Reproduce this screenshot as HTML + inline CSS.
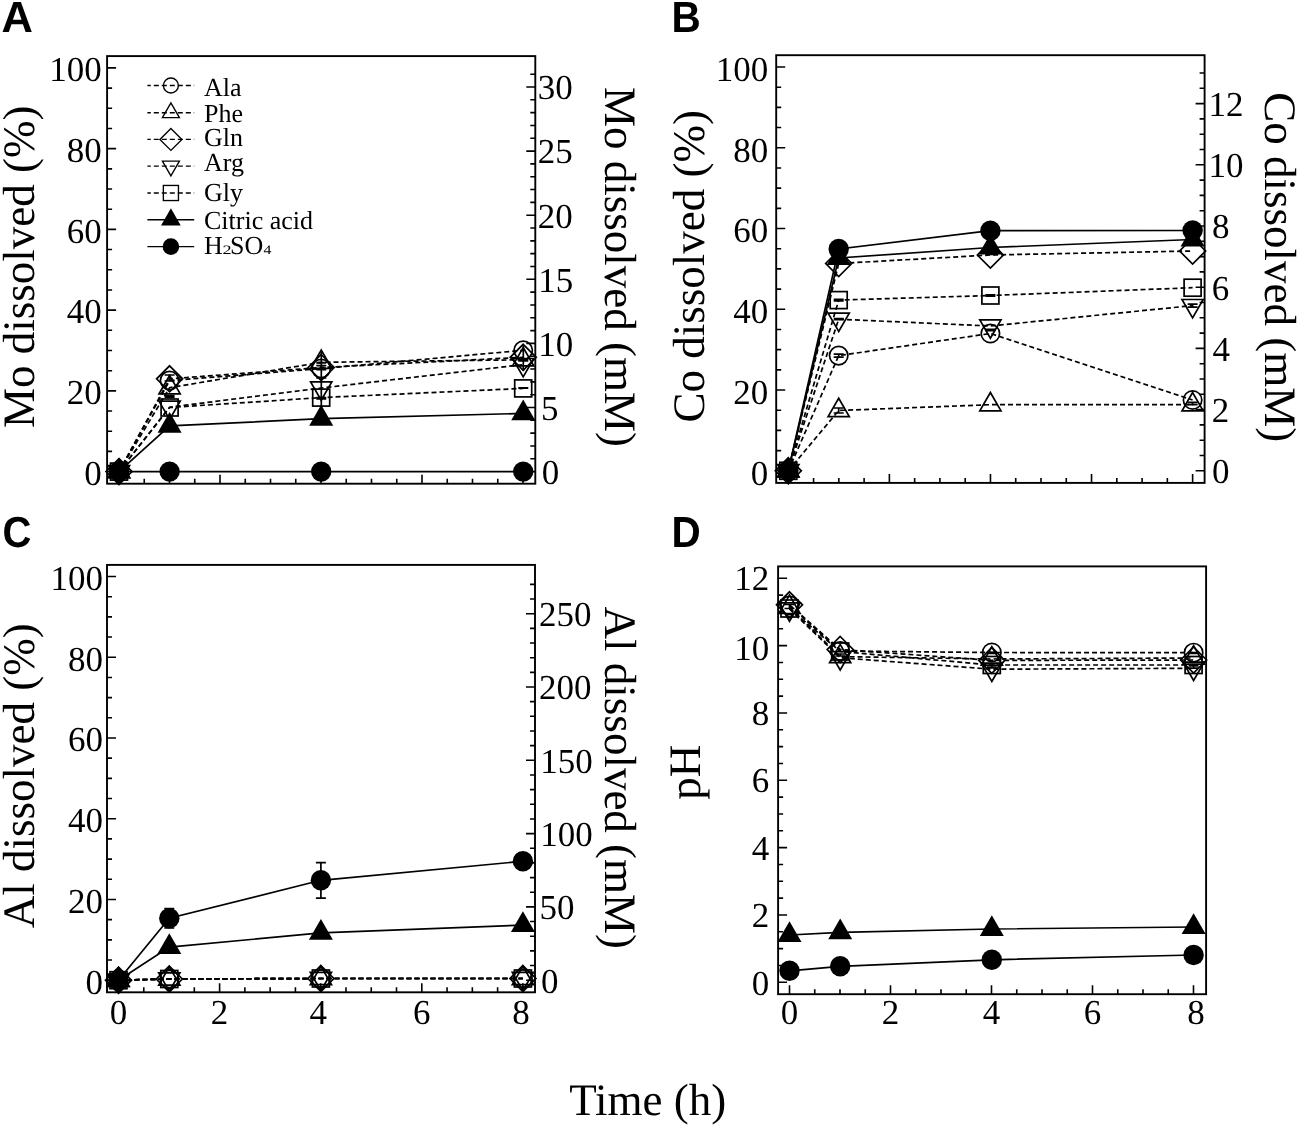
<!DOCTYPE html><html><head><meta charset="utf-8"><title>Figure</title><style>html,body{margin:0;padding:0;background:#fff;width:1299px;height:1127px;overflow:hidden}svg{display:block;will-change:transform}text{text-rendering:geometricPrecision}.t{font-family:"Liberation Serif",serif;font-size:35px;fill:#000}.ti{font-family:"Liberation Serif",serif;font-size:45px;fill:#000}.lg{font-family:"Liberation Serif",serif;font-size:26px;fill:#000}.pl{font-family:"Liberation Sans",sans-serif;font-weight:bold;font-size:43.5px;fill:#000}</style></head><body>
<svg width="1299" height="1127" viewBox="0 0 1299 1127">
<rect width="1299" height="1127" fill="#fff"/>
<text x="1.4" y="32.1" class="pl">A</text>
<text class="pl" transform="translate(674.3,32.1) scale(0.93,1)" x="-2.9">B</text>
<text class="pl" transform="translate(4.2,546.6) scale(0.92,1)" x="-1.8">C</text>
<text class="pl" transform="translate(674.3,547) scale(0.93,1)" x="-2.9">D</text>
<rect x="107.1" y="56.1" width="428.2" height="427.6" fill="none" stroke="#000" stroke-width="1.9"/>
<path d="M107.1 471.6h9M107.1 451.42h5M107.1 431.23h5M107.1 411.05h5M107.1 390.86h9M107.1 370.68h5M107.1 350.49h5M107.1 330.31h5M107.1 310.12h9M107.1 289.94h5M107.1 269.75h5M107.1 249.57h5M107.1 229.38h9M107.1 209.2h5M107.1 189.01h5M107.1 168.83h5M107.1 148.64h9M107.1 128.46h5M107.1 108.27h5M107.1 88.09h5M107.1 67.9h9M535.3 471.6h-9M535.3 458.78h-5M535.3 445.96h-5M535.3 433.14h-5M535.3 420.32h-5M535.3 407.5h-9M535.3 394.68h-5M535.3 381.86h-5M535.3 369.04h-5M535.3 356.22h-5M535.3 343.4h-9M535.3 330.58h-5M535.3 317.76h-5M535.3 304.94h-5M535.3 292.12h-5M535.3 279.3h-9M535.3 266.48h-5M535.3 253.66h-5M535.3 240.84h-5M535.3 228.02h-5M535.3 215.2h-9M535.3 202.38h-5M535.3 189.56h-5M535.3 176.74h-5M535.3 163.92h-5M535.3 151.1h-9M535.3 138.28h-5M535.3 125.46h-5M535.3 112.64h-5M535.3 99.82h-5M535.3 87h-9M535.3 74.18h-5M119 483.7v-9M144.25 483.7v-5M169.5 483.7v-5M194.75 483.7v-5M220 483.7v-9M245.25 483.7v-5M270.5 483.7v-5M295.75 483.7v-5M321 483.7v-9M346.25 483.7v-5M371.5 483.7v-5M396.75 483.7v-5M422 483.7v-9M447.25 483.7v-5M472.5 483.7v-5M497.75 483.7v-5M523 483.7v-9" stroke="#000" stroke-width="1.6" fill="none"/>
<text x="101.73" y="484.9" class="t" text-anchor="end">0</text>
<text x="101.73" y="404.16" class="t" text-anchor="end">20</text>
<text x="101.73" y="323.42" class="t" text-anchor="end">40</text>
<text x="101.73" y="242.68" class="t" text-anchor="end">60</text>
<text x="101.73" y="161.94" class="t" text-anchor="end">80</text>
<text x="101.73" y="81.2" class="t" text-anchor="end">100</text>
<text x="541.67" y="483.9" class="t">0</text>
<text x="540.97" y="419.8" class="t">5</text>
<text x="538.22" y="355.7" class="t">10</text>
<text x="538.22" y="291.6" class="t">15</text>
<text x="537.76" y="227.5" class="t">20</text>
<text x="537.76" y="163.4" class="t">25</text>
<text x="537.63" y="99.3" class="t">30</text>
<rect x="776.2" y="55.2" width="428.4" height="427.7" fill="none" stroke="#000" stroke-width="1.9"/>
<path d="M776.2 470.8h9M776.2 450.61h5M776.2 430.42h5M776.2 410.23h5M776.2 390.04h9M776.2 369.85h5M776.2 349.66h5M776.2 329.47h5M776.2 309.28h9M776.2 289.09h5M776.2 268.9h5M776.2 248.71h5M776.2 228.52h9M776.2 208.33h5M776.2 188.14h5M776.2 167.95h5M776.2 147.76h9M776.2 127.57h5M776.2 107.38h5M776.2 87.19h5M776.2 67h9M1204.6 470.8h-9M1204.6 455.5h-5M1204.6 440.2h-5M1204.6 424.9h-5M1204.6 409.6h-9M1204.6 394.3h-5M1204.6 379h-5M1204.6 363.7h-5M1204.6 348.4h-9M1204.6 333.1h-5M1204.6 317.8h-5M1204.6 302.5h-5M1204.6 287.2h-9M1204.6 271.9h-5M1204.6 256.6h-5M1204.6 241.3h-5M1204.6 226h-9M1204.6 210.7h-5M1204.6 195.4h-5M1204.6 180.1h-5M1204.6 164.8h-9M1204.6 149.5h-5M1204.6 134.2h-5M1204.6 118.9h-5M1204.6 103.6h-9M1204.6 88.3h-5M1204.6 73h-5M788.3 482.9v-9M813.57 482.9v-5M838.84 482.9v-5M864.11 482.9v-5M889.38 482.9v-9M914.65 482.9v-5M939.92 482.9v-5M965.19 482.9v-5M990.46 482.9v-9M1015.73 482.9v-5M1041 482.9v-5M1066.27 482.9v-5M1091.54 482.9v-9M1116.81 482.9v-5M1142.08 482.9v-5M1167.35 482.9v-5M1192.62 482.9v-9" stroke="#000" stroke-width="1.6" fill="none"/>
<text x="768.13" y="484.7" class="t" text-anchor="end">0</text>
<text x="768.13" y="403.94" class="t" text-anchor="end">20</text>
<text x="768.13" y="323.18" class="t" text-anchor="end">40</text>
<text x="768.13" y="242.42" class="t" text-anchor="end">60</text>
<text x="768.13" y="161.66" class="t" text-anchor="end">80</text>
<text x="768.13" y="80.9" class="t" text-anchor="end">100</text>
<text x="1211.97" y="483.1" class="t">0</text>
<text x="1211.76" y="421.9" class="t">2</text>
<text x="1212.62" y="360.7" class="t">4</text>
<text x="1211.8" y="299.5" class="t">6</text>
<text x="1211.97" y="238.3" class="t">8</text>
<text x="1208.62" y="177.1" class="t">10</text>
<text x="1208.62" y="115.9" class="t">12</text>
<rect x="107" y="564.9" width="428" height="427.4" fill="none" stroke="#000" stroke-width="1.9"/>
<path d="M107 980.2h9M107 960.02h5M107 939.83h5M107 919.65h5M107 899.46h9M107 879.28h5M107 859.09h5M107 838.91h5M107 818.72h9M107 798.54h5M107 778.35h5M107 758.17h5M107 737.98h9M107 717.8h5M107 697.61h5M107 677.43h5M107 657.24h9M107 637.06h5M107 616.87h5M107 596.69h5M107 576.5h9M535 980.2h-9M535 965.54h-5M535 950.88h-5M535 936.22h-5M535 921.56h-5M535 906.9h-9M535 892.24h-5M535 877.58h-5M535 862.92h-5M535 848.26h-5M535 833.6h-9M535 818.94h-5M535 804.28h-5M535 789.62h-5M535 774.96h-5M535 760.3h-9M535 745.64h-5M535 730.98h-5M535 716.32h-5M535 701.66h-5M535 687h-9M535 672.34h-5M535 657.68h-5M535 643.02h-5M535 628.36h-5M535 613.7h-9M535 599.04h-5M535 584.38h-5M118.5 992.3v-9M143.78 992.3v-5M169.05 992.3v-5M194.32 992.3v-5M219.6 992.3v-9M244.88 992.3v-5M270.15 992.3v-5M295.42 992.3v-5M320.7 992.3v-9M345.98 992.3v-5M371.25 992.3v-5M396.52 992.3v-5M421.8 992.3v-9M447.07 992.3v-5M472.35 992.3v-5M497.62 992.3v-5M522.9 992.3v-9" stroke="#000" stroke-width="1.6" fill="none"/>
<text x="102.93" y="993.5" class="t" text-anchor="end">0</text>
<text x="102.93" y="912.76" class="t" text-anchor="end">20</text>
<text x="102.93" y="832.02" class="t" text-anchor="end">40</text>
<text x="102.93" y="751.28" class="t" text-anchor="end">60</text>
<text x="102.93" y="670.54" class="t" text-anchor="end">80</text>
<text x="102.93" y="589.8" class="t" text-anchor="end">100</text>
<text x="541.07" y="992.5" class="t">0</text>
<text x="539.47" y="919.2" class="t">50</text>
<text x="540.22" y="845.9" class="t">100</text>
<text x="540.22" y="772.6" class="t">150</text>
<text x="539.06" y="699.3" class="t">200</text>
<text x="539.06" y="626" class="t">250</text>
<text x="118.5" y="1023.5" class="t" text-anchor="middle">0</text>
<text x="219.6" y="1023.5" class="t" text-anchor="middle">2</text>
<text x="318.3" y="1023.5" class="t" text-anchor="middle">4</text>
<text x="421.8" y="1023.5" class="t" text-anchor="middle">6</text>
<text x="521.1" y="1023.5" class="t" text-anchor="middle">8</text>
<rect x="778.1" y="566.4" width="428" height="427.8" fill="none" stroke="#000" stroke-width="1.9"/>
<path d="M778.1 982.3h9M778.1 965.46h5M778.1 948.63h5M778.1 931.79h5M778.1 914.96h9M778.1 898.12h5M778.1 881.29h5M778.1 864.45h5M778.1 847.62h9M778.1 830.78h5M778.1 813.95h5M778.1 797.12h5M778.1 780.28h9M778.1 763.44h5M778.1 746.61h5M778.1 729.77h5M778.1 712.94h9M778.1 696.11h5M778.1 679.27h5M778.1 662.43h5M778.1 645.6h9M778.1 628.76h5M778.1 611.93h5M778.1 595.09h5M778.1 578.26h9M789.5 994.2v-9M814.75 994.2v-5M840 994.2v-5M865.25 994.2v-5M890.5 994.2v-9M915.75 994.2v-5M941 994.2v-5M966.25 994.2v-5M991.5 994.2v-9M1016.75 994.2v-5M1042 994.2v-5M1067.25 994.2v-5M1092.5 994.2v-9M1117.75 994.2v-5M1143 994.2v-5M1168.25 994.2v-5M1193.5 994.2v-9" stroke="#000" stroke-width="1.6" fill="none"/>
<text x="769.13" y="994.5" class="t" text-anchor="end">0</text>
<text x="769.13" y="927.16" class="t" text-anchor="end">2</text>
<text x="769.13" y="859.82" class="t" text-anchor="end">4</text>
<text x="769.13" y="792.48" class="t" text-anchor="end">6</text>
<text x="769.13" y="725.14" class="t" text-anchor="end">8</text>
<text x="769.13" y="660.1" class="t" text-anchor="end">10</text>
<text x="769.13" y="590.46" class="t" text-anchor="end">12</text>
<text x="789.5" y="1023.5" class="t" text-anchor="middle">0</text>
<text x="890.5" y="1023.5" class="t" text-anchor="middle">2</text>
<text x="991.5" y="1023.5" class="t" text-anchor="middle">4</text>
<text x="1092.5" y="1023.5" class="t" text-anchor="middle">6</text>
<text x="1196" y="1023.5" class="t" text-anchor="middle">8</text>
<text class="ti" transform="translate(34,428.1) rotate(-90)">Mo dissolved (%)</text>
<text class="ti" transform="translate(604.6,86.9) rotate(90)">Mo dissolved (mM)</text>
<text class="ti" transform="translate(704,422.5) rotate(-90)">Co dissolved (%)</text>
<text class="ti" transform="translate(1264.5,92.3) rotate(90)">Co dissolved (mM)</text>
<text class="ti" transform="translate(34,928.2) rotate(-90)">Al dissolved (%)</text>
<text class="ti" transform="translate(604.6,606.6) rotate(90)">Al dissolved (mM)</text>
<text class="ti" transform="translate(699.9,799.7) rotate(-90)">pH</text>
<text class="ti" x="569.2" y="1115.4">Time (h)</text>
<path d="M147.4 85.5 L194.2 85.5" fill="none" stroke="#000" stroke-width="1.35" stroke-dasharray="5 3" stroke-dashoffset="1.6"/>
<circle cx="170.9" cy="85.5" r="7.5" fill="none" stroke="#000" stroke-width="1.35"/>
<text x="204.0" y="95.5" class="lg">Ala</text>
<path d="M147.4 112.7 L194.2 112.7" fill="none" stroke="#000" stroke-width="1.35" stroke-dasharray="5 3" stroke-dashoffset="1.6"/>
<polygon points="170.9,102.89 162.4,117.61 179.4,117.61" fill="none" stroke="#000" stroke-width="1.35" stroke-linejoin="miter"/>
<text x="204.0" y="121.5" class="lg">Phe</text>
<path d="M147.4 139.4 L194.2 139.4" fill="none" stroke="#000" stroke-width="1.35" stroke-dasharray="5 3" stroke-dashoffset="1.6"/>
<polygon points="170.9,128.4 181.9,139.4 170.9,150.4 159.9,139.4" fill="none" stroke="#000" stroke-width="1.35"/>
<text x="204.0" y="145.7" class="lg">Gln</text>
<path d="M147.4 166.1 L194.2 166.1" fill="none" stroke="#000" stroke-width="1.35" stroke-dasharray="5 3" stroke-dashoffset="1.6"/>
<polygon points="170.9,175.91 162.4,161.19 179.4,161.19" fill="none" stroke="#000" stroke-width="1.35" stroke-linejoin="miter"/>
<text x="204.0" y="171.3" class="lg">Arg</text>
<path d="M147.4 193 L194.2 193" fill="none" stroke="#000" stroke-width="1.35" stroke-dasharray="5 3" stroke-dashoffset="1.6"/>
<rect x="163.35" y="185.45" width="15.1" height="15.1" fill="none" stroke="#000" stroke-width="1.35"/>
<text x="204.0" y="200.7" class="lg">Gly</text>
<path d="M147.4 219.7 L194.2 219.7" fill="none" stroke="#000" stroke-width="1.35"/>
<polygon points="170.9,208.33 161.05,225.39 180.75,225.39" fill="#000"/>
<text x="204.0" y="228.5" class="lg">Citric acid</text>
<path d="M147.4 246.6 L194.2 246.6" fill="none" stroke="#000" stroke-width="1.35"/>
<circle cx="170.9" cy="246.6" r="8.3" fill="#000"/>
<text x="204.1" y="254.1" class="lg">H</text>
<text class="lg" style="font-size:12.8px" transform="translate(222.6,254) scale(1.42,1)">2</text>
<text x="230.1" y="254.1" class="lg">SO</text>
<text class="lg" style="font-size:13px" transform="translate(263.5,254) scale(1.22,1)">4</text>
<path d="M119 471.6 L169.6 380.6 L321.2 368.6 L523.2 350.3" fill="none" stroke="#000" stroke-width="1.7" stroke-dasharray="5 3"/>
<path d="M119 471.6 L169.6 387.7 L321.2 362.3 L523.2 359.8" fill="none" stroke="#000" stroke-width="1.7" stroke-dasharray="5 3"/>
<path d="M119 471.6 L169.6 378.8 L321.2 367.5 L523.2 357.3" fill="none" stroke="#000" stroke-width="1.7" stroke-dasharray="5 3"/>
<path d="M119 471.6 L169.6 407.2 L321.2 388 L523.2 364.6" fill="none" stroke="#000" stroke-width="1.7" stroke-dasharray="5 3"/>
<path d="M119 471.6 L169.6 407.5 L321.2 397.6 L523.2 388.4" fill="none" stroke="#000" stroke-width="1.7" stroke-dasharray="5 3"/>
<path d="M119 471.6 L169.6 425.9 L321.2 418.7 L523.2 413.4" fill="none" stroke="#000" stroke-width="1.7"/>
<path d="M119 471.6 L169.6 471.6 L321.2 471.6 L523.2 471.6" fill="none" stroke="#000" stroke-width="1.7"/>
<path d="M321.3 351V407" stroke="#000" stroke-width="1.7" fill="none"/>
<path d="M321.3 362.6V362.8M316.3 362.6h10M316.3 362.8h10" stroke="#000" stroke-width="1.7" fill="none"/>
<path d="M321.3 365.6V369.6M316.3 365.6h10M316.3 369.6h10" stroke="#000" stroke-width="1.7" fill="none"/>
<path d="M321.3 377.7V377.9M316.3 377.7h10M316.3 377.9h10" stroke="#000" stroke-width="1.7" fill="none"/>
<path d="M321.3 397.7V398.9M316.3 397.7h10M316.3 398.9h10" stroke="#000" stroke-width="1.7" fill="none"/>
<path d="M523.3 345V371" stroke="#000" stroke-width="1.7" fill="none"/>
<path d="M523.3 359.1V360.9M518.3 359.1h10M518.3 360.9h10" stroke="#000" stroke-width="1.7" fill="none"/>
<path d="M523.3 387.9V388.1M518.3 387.9h10M518.3 388.1h10" stroke="#000" stroke-width="1.7" fill="none"/>
<path d="M169.6 375V381M164.6 375h10M164.6 381h10" stroke="#000" stroke-width="1.7" fill="none"/>
<path d="M169.6 395.7V397.3M164.6 395.7h10M164.6 397.3h10" stroke="#000" stroke-width="1.7" fill="none"/>
<circle cx="119" cy="471.6" r="9.2" fill="none" stroke="#000" stroke-width="1.7"/>
<circle cx="169.6" cy="380.6" r="9.2" fill="none" stroke="#000" stroke-width="1.7"/>
<circle cx="321.2" cy="368.6" r="9.2" fill="none" stroke="#000" stroke-width="1.7"/>
<circle cx="523.2" cy="350.3" r="9.2" fill="none" stroke="#000" stroke-width="1.7"/>
<polygon points="119,459.36 108.4,477.72 129.6,477.72" fill="none" stroke="#000" stroke-width="1.7" stroke-linejoin="miter"/>
<polygon points="169.6,375.46 159,393.82 180.2,393.82" fill="none" stroke="#000" stroke-width="1.7" stroke-linejoin="miter"/>
<polygon points="321.2,350.06 310.6,368.42 331.8,368.42" fill="none" stroke="#000" stroke-width="1.7" stroke-linejoin="miter"/>
<polygon points="523.2,347.56 512.6,365.92 533.8,365.92" fill="none" stroke="#000" stroke-width="1.7" stroke-linejoin="miter"/>
<polygon points="119,458.6 132,471.6 119,484.6 106,471.6" fill="none" stroke="#000" stroke-width="1.7"/>
<polygon points="169.6,365.8 182.6,378.8 169.6,391.8 156.6,378.8" fill="none" stroke="#000" stroke-width="1.7"/>
<polygon points="321.2,354.5 334.2,367.5 321.2,380.5 308.2,367.5" fill="none" stroke="#000" stroke-width="1.7"/>
<polygon points="523.2,344.3 536.2,357.3 523.2,370.3 510.2,357.3" fill="none" stroke="#000" stroke-width="1.7"/>
<polygon points="119,483.84 108.4,465.48 129.6,465.48" fill="none" stroke="#000" stroke-width="1.7" stroke-linejoin="miter"/>
<polygon points="169.6,419.44 159,401.08 180.2,401.08" fill="none" stroke="#000" stroke-width="1.7" stroke-linejoin="miter"/>
<polygon points="321.2,400.24 310.6,381.88 331.8,381.88" fill="none" stroke="#000" stroke-width="1.7" stroke-linejoin="miter"/>
<polygon points="523.2,376.84 512.6,358.48 533.8,358.48" fill="none" stroke="#000" stroke-width="1.7" stroke-linejoin="miter"/>
<rect x="110.5" y="463.1" width="17" height="17" fill="none" stroke="#000" stroke-width="1.7"/>
<rect x="161.1" y="399" width="17" height="17" fill="none" stroke="#000" stroke-width="1.7"/>
<rect x="312.7" y="389.1" width="17" height="17" fill="none" stroke="#000" stroke-width="1.7"/>
<rect x="514.7" y="379.9" width="17" height="17" fill="none" stroke="#000" stroke-width="1.7"/>
<polygon points="119,457.74 107,478.53 131,478.53" fill="#000"/>
<polygon points="169.6,412.04 157.6,432.83 181.6,432.83" fill="#000"/>
<polygon points="321.2,404.84 309.2,425.63 333.2,425.63" fill="#000"/>
<polygon points="523.2,399.54 511.2,420.33 535.2,420.33" fill="#000"/>
<circle cx="119" cy="471.6" r="10.2" fill="#000"/>
<circle cx="169.6" cy="471.6" r="10.2" fill="#000"/>
<circle cx="321.2" cy="471.6" r="10.2" fill="#000"/>
<circle cx="523.2" cy="471.6" r="10.2" fill="#000"/>
<path d="M788.3 470.8 L838.7 355.6 L990.4 333.5 L1192.6 400" fill="none" stroke="#000" stroke-width="1.7" stroke-dasharray="5 3"/>
<path d="M788.3 470.8 L838.7 410.5 L990.4 404.7 L1192.6 404.7" fill="none" stroke="#000" stroke-width="1.7" stroke-dasharray="5 3"/>
<path d="M788.3 470.8 L838.7 263.5 L990.4 255 L1192.6 251" fill="none" stroke="#000" stroke-width="1.7" stroke-dasharray="5 3"/>
<path d="M788.3 470.8 L838.7 319.2 L990.4 326 L1192.6 305.6" fill="none" stroke="#000" stroke-width="1.7" stroke-dasharray="5 3"/>
<path d="M788.3 470.8 L838.7 300.1 L990.4 295.5 L1192.6 287.7" fill="none" stroke="#000" stroke-width="1.7" stroke-dasharray="5 3"/>
<path d="M788.3 470.8 L838.7 258 L990.4 247.5 L1192.6 239.5" fill="none" stroke="#000" stroke-width="1.7"/>
<path d="M788.3 470.8 L838.7 249 L990.4 230.7 L1192.6 230.5" fill="none" stroke="#000" stroke-width="1.7"/>
<path d="M838.7 354.1V357.1M833.7 354.1h10M833.7 357.1h10" stroke="#000" stroke-width="1.7" fill="none"/>
<path d="M838.7 408V413M833.7 408h10M833.7 413h10" stroke="#000" stroke-width="1.7" fill="none"/>
<path d="M838.7 299.3V300.9M833.7 299.3h10M833.7 300.9h10" stroke="#000" stroke-width="1.7" fill="none"/>
<path d="M838.7 318.7V319.7M833.7 318.7h10M833.7 319.7h10" stroke="#000" stroke-width="1.7" fill="none"/>
<path d="M990.4 294.9V296.1M985.4 294.9h10M985.4 296.1h10" stroke="#000" stroke-width="1.7" fill="none"/>
<path d="M990.4 329.4V330.6M985.4 329.4h10M985.4 330.6h10" stroke="#000" stroke-width="1.7" fill="none"/>
<path d="M1192.6 304.1V307.1M1187.6 304.1h10M1187.6 307.1h10" stroke="#000" stroke-width="1.7" fill="none"/>
<path d="M1192.6 402.3V404.7M1187.6 402.3h10M1187.6 404.7h10" stroke="#000" stroke-width="1.7" fill="none"/>
<path d="M990.4 253.5V254.5M985.4 253.5h10M985.4 254.5h10" stroke="#000" stroke-width="1.7" fill="none"/>
<circle cx="788.3" cy="470.8" r="9.2" fill="none" stroke="#000" stroke-width="1.7"/>
<circle cx="838.7" cy="355.6" r="9.2" fill="none" stroke="#000" stroke-width="1.7"/>
<circle cx="990.4" cy="333.5" r="9.2" fill="none" stroke="#000" stroke-width="1.7"/>
<circle cx="1192.6" cy="400" r="9.2" fill="none" stroke="#000" stroke-width="1.7"/>
<polygon points="788.3,458.56 777.7,476.92 798.9,476.92" fill="none" stroke="#000" stroke-width="1.7" stroke-linejoin="miter"/>
<polygon points="838.7,398.26 828.1,416.62 849.3,416.62" fill="none" stroke="#000" stroke-width="1.7" stroke-linejoin="miter"/>
<polygon points="990.4,392.46 979.8,410.82 1001,410.82" fill="none" stroke="#000" stroke-width="1.7" stroke-linejoin="miter"/>
<polygon points="1192.6,392.46 1182,410.82 1203.2,410.82" fill="none" stroke="#000" stroke-width="1.7" stroke-linejoin="miter"/>
<polygon points="788.3,457.8 801.3,470.8 788.3,483.8 775.3,470.8" fill="none" stroke="#000" stroke-width="1.7"/>
<polygon points="838.7,250.5 851.7,263.5 838.7,276.5 825.7,263.5" fill="none" stroke="#000" stroke-width="1.7"/>
<polygon points="990.4,242 1003.4,255 990.4,268 977.4,255" fill="none" stroke="#000" stroke-width="1.7"/>
<polygon points="1192.6,238 1205.6,251 1192.6,264 1179.6,251" fill="none" stroke="#000" stroke-width="1.7"/>
<polygon points="788.3,483.04 777.7,464.68 798.9,464.68" fill="none" stroke="#000" stroke-width="1.7" stroke-linejoin="miter"/>
<polygon points="838.7,331.44 828.1,313.08 849.3,313.08" fill="none" stroke="#000" stroke-width="1.7" stroke-linejoin="miter"/>
<polygon points="990.4,338.24 979.8,319.88 1001,319.88" fill="none" stroke="#000" stroke-width="1.7" stroke-linejoin="miter"/>
<polygon points="1192.6,317.84 1182,299.48 1203.2,299.48" fill="none" stroke="#000" stroke-width="1.7" stroke-linejoin="miter"/>
<rect x="779.8" y="462.3" width="17" height="17" fill="none" stroke="#000" stroke-width="1.7"/>
<rect x="830.2" y="291.6" width="17" height="17" fill="none" stroke="#000" stroke-width="1.7"/>
<rect x="981.9" y="287" width="17" height="17" fill="none" stroke="#000" stroke-width="1.7"/>
<rect x="1184.1" y="279.2" width="17" height="17" fill="none" stroke="#000" stroke-width="1.7"/>
<polygon points="788.3,456.94 776.3,477.73 800.3,477.73" fill="#000"/>
<polygon points="838.7,244.14 826.7,264.93 850.7,264.93" fill="#000"/>
<polygon points="990.4,233.64 978.4,254.43 1002.4,254.43" fill="#000"/>
<polygon points="1192.6,225.64 1180.6,246.43 1204.6,246.43" fill="#000"/>
<circle cx="788.3" cy="470.8" r="10.2" fill="#000"/>
<circle cx="838.7" cy="249" r="10.2" fill="#000"/>
<circle cx="990.4" cy="230.7" r="10.2" fill="#000"/>
<circle cx="1192.6" cy="230.5" r="10.2" fill="#000"/>
<path d="M118.5 980.2 L169.3 979 L320.9 978.5 L522.9 978.5" fill="none" stroke="#000" stroke-width="1.7" stroke-dasharray="5 3"/>
<path d="M118.5 980.2 L169.3 979 L320.9 978.5 L522.9 978.5" fill="none" stroke="#000" stroke-width="1.7" stroke-dasharray="5 3"/>
<path d="M118.5 980.2 L169.3 979 L320.9 978.5 L522.9 978.5" fill="none" stroke="#000" stroke-width="1.7" stroke-dasharray="5 3"/>
<path d="M118.5 980.2 L169.3 979 L320.9 978.5 L522.9 978.5" fill="none" stroke="#000" stroke-width="1.7" stroke-dasharray="5 3"/>
<path d="M118.5 980.2 L169.3 979 L320.9 978.5 L522.9 978.5" fill="none" stroke="#000" stroke-width="1.7" stroke-dasharray="5 3"/>
<path d="M118.5 980.2 L169.3 947.1 L320.9 932.9 L522.9 925.1" fill="none" stroke="#000" stroke-width="1.7"/>
<path d="M118.5 980.2 L169.3 918.3 L320.9 880.3 L522.9 861.3" fill="none" stroke="#000" stroke-width="1.7"/>
<path d="M320.9 862.6V898.1M315.9 862.6h10M315.9 898.1h10" stroke="#000" stroke-width="1.7" fill="none"/>
<path d="M169.3 908.5V928M164.3 908.5h10M164.3 928h10" stroke="#000" stroke-width="1.7" fill="none"/>
<circle cx="118.5" cy="980.2" r="9.2" fill="none" stroke="#000" stroke-width="1.7"/>
<circle cx="169.3" cy="979" r="9.2" fill="none" stroke="#000" stroke-width="1.7"/>
<circle cx="320.9" cy="978.5" r="9.2" fill="none" stroke="#000" stroke-width="1.7"/>
<circle cx="522.9" cy="978.5" r="9.2" fill="none" stroke="#000" stroke-width="1.7"/>
<polygon points="118.5,967.96 107.9,986.32 129.1,986.32" fill="none" stroke="#000" stroke-width="1.7" stroke-linejoin="miter"/>
<polygon points="169.3,966.76 158.7,985.12 179.9,985.12" fill="none" stroke="#000" stroke-width="1.7" stroke-linejoin="miter"/>
<polygon points="320.9,966.26 310.3,984.62 331.5,984.62" fill="none" stroke="#000" stroke-width="1.7" stroke-linejoin="miter"/>
<polygon points="522.9,966.26 512.3,984.62 533.5,984.62" fill="none" stroke="#000" stroke-width="1.7" stroke-linejoin="miter"/>
<polygon points="118.5,967.2 131.5,980.2 118.5,993.2 105.5,980.2" fill="none" stroke="#000" stroke-width="1.7"/>
<polygon points="169.3,966 182.3,979 169.3,992 156.3,979" fill="none" stroke="#000" stroke-width="1.7"/>
<polygon points="320.9,965.5 333.9,978.5 320.9,991.5 307.9,978.5" fill="none" stroke="#000" stroke-width="1.7"/>
<polygon points="522.9,965.5 535.9,978.5 522.9,991.5 509.9,978.5" fill="none" stroke="#000" stroke-width="1.7"/>
<polygon points="118.5,992.44 107.9,974.08 129.1,974.08" fill="none" stroke="#000" stroke-width="1.7" stroke-linejoin="miter"/>
<polygon points="169.3,991.24 158.7,972.88 179.9,972.88" fill="none" stroke="#000" stroke-width="1.7" stroke-linejoin="miter"/>
<polygon points="320.9,990.74 310.3,972.38 331.5,972.38" fill="none" stroke="#000" stroke-width="1.7" stroke-linejoin="miter"/>
<polygon points="522.9,990.74 512.3,972.38 533.5,972.38" fill="none" stroke="#000" stroke-width="1.7" stroke-linejoin="miter"/>
<rect x="110" y="971.7" width="17" height="17" fill="none" stroke="#000" stroke-width="1.7"/>
<rect x="160.8" y="970.5" width="17" height="17" fill="none" stroke="#000" stroke-width="1.7"/>
<rect x="312.4" y="970" width="17" height="17" fill="none" stroke="#000" stroke-width="1.7"/>
<rect x="514.4" y="970" width="17" height="17" fill="none" stroke="#000" stroke-width="1.7"/>
<polygon points="118.5,966.34 106.5,987.13 130.5,987.13" fill="#000"/>
<polygon points="169.3,933.24 157.3,954.03 181.3,954.03" fill="#000"/>
<polygon points="320.9,919.04 308.9,939.83 332.9,939.83" fill="#000"/>
<polygon points="522.9,911.24 510.9,932.03 534.9,932.03" fill="#000"/>
<circle cx="118.5" cy="980.2" r="10.2" fill="#000"/>
<circle cx="169.3" cy="918.3" r="10.2" fill="#000"/>
<circle cx="320.9" cy="880.3" r="10.2" fill="#000"/>
<circle cx="522.9" cy="861.3" r="10.2" fill="#000"/>
<path d="M789.5 605.5 L840.2 651 L991.8 652.5 L1193.6 652.7" fill="none" stroke="#000" stroke-width="1.7" stroke-dasharray="5 3"/>
<path d="M789.5 607.4 L840.2 656.6 L991.8 659 L1193.6 658" fill="none" stroke="#000" stroke-width="1.7" stroke-dasharray="5 3"/>
<path d="M789.5 604.8 L840.2 649.5 L991.8 660.4 L1193.6 660" fill="none" stroke="#000" stroke-width="1.7" stroke-dasharray="5 3"/>
<path d="M789.5 609 L840.2 657.8 L991.8 669.2 L1193.6 668.3" fill="none" stroke="#000" stroke-width="1.7" stroke-dasharray="5 3"/>
<path d="M789.5 608.5 L840.2 651.5 L991.8 665 L1193.6 665" fill="none" stroke="#000" stroke-width="1.7" stroke-dasharray="5 3"/>
<path d="M789.5 935 L840.2 932.3 L991.8 929 L1193.6 927" fill="none" stroke="#000" stroke-width="1.7"/>
<path d="M789.5 970.8 L840.2 966.3 L991.8 959.8 L1193.6 955" fill="none" stroke="#000" stroke-width="1.7"/>
<path d="M789.5 604.5V608.5M784.5 604.5h10M784.5 608.5h10" stroke="#000" stroke-width="1.7" fill="none"/>
<path d="M991.8 652.4V653.4M986.8 652.4h10M986.8 653.4h10" stroke="#000" stroke-width="1.7" fill="none"/>
<path d="M991.8 665.8V667.8M986.8 665.8h10M986.8 667.8h10" stroke="#000" stroke-width="1.7" fill="none"/>
<path d="M1193.6 652.5V653.5M1188.6 652.5h10M1188.6 653.5h10" stroke="#000" stroke-width="1.7" fill="none"/>
<path d="M1193.6 665.8V668.2M1188.6 665.8h10M1188.6 668.2h10" stroke="#000" stroke-width="1.7" fill="none"/>
<path d="M840.2 654V656M835.2 654h10M835.2 656h10" stroke="#000" stroke-width="1.7" fill="none"/>
<circle cx="789.5" cy="605.5" r="9.2" fill="none" stroke="#000" stroke-width="1.7"/>
<circle cx="840.2" cy="651" r="9.2" fill="none" stroke="#000" stroke-width="1.7"/>
<circle cx="991.8" cy="652.5" r="9.2" fill="none" stroke="#000" stroke-width="1.7"/>
<circle cx="1193.6" cy="652.7" r="9.2" fill="none" stroke="#000" stroke-width="1.7"/>
<polygon points="789.5,595.16 778.9,613.52 800.1,613.52" fill="none" stroke="#000" stroke-width="1.7" stroke-linejoin="miter"/>
<polygon points="840.2,644.36 829.6,662.72 850.8,662.72" fill="none" stroke="#000" stroke-width="1.7" stroke-linejoin="miter"/>
<polygon points="991.8,646.76 981.2,665.12 1002.4,665.12" fill="none" stroke="#000" stroke-width="1.7" stroke-linejoin="miter"/>
<polygon points="1193.6,645.76 1183,664.12 1204.2,664.12" fill="none" stroke="#000" stroke-width="1.7" stroke-linejoin="miter"/>
<polygon points="789.5,591.8 802.5,604.8 789.5,617.8 776.5,604.8" fill="none" stroke="#000" stroke-width="1.7"/>
<polygon points="840.2,636.5 853.2,649.5 840.2,662.5 827.2,649.5" fill="none" stroke="#000" stroke-width="1.7"/>
<polygon points="991.8,647.4 1004.8,660.4 991.8,673.4 978.8,660.4" fill="none" stroke="#000" stroke-width="1.7"/>
<polygon points="1193.6,647 1206.6,660 1193.6,673 1180.6,660" fill="none" stroke="#000" stroke-width="1.7"/>
<polygon points="789.5,621.24 778.9,602.88 800.1,602.88" fill="none" stroke="#000" stroke-width="1.7" stroke-linejoin="miter"/>
<polygon points="840.2,670.04 829.6,651.68 850.8,651.68" fill="none" stroke="#000" stroke-width="1.7" stroke-linejoin="miter"/>
<polygon points="991.8,681.44 981.2,663.08 1002.4,663.08" fill="none" stroke="#000" stroke-width="1.7" stroke-linejoin="miter"/>
<polygon points="1193.6,680.54 1183,662.18 1204.2,662.18" fill="none" stroke="#000" stroke-width="1.7" stroke-linejoin="miter"/>
<rect x="781" y="600" width="17" height="17" fill="none" stroke="#000" stroke-width="1.7"/>
<rect x="831.7" y="643" width="17" height="17" fill="none" stroke="#000" stroke-width="1.7"/>
<rect x="983.3" y="656.5" width="17" height="17" fill="none" stroke="#000" stroke-width="1.7"/>
<rect x="1185.1" y="656.5" width="17" height="17" fill="none" stroke="#000" stroke-width="1.7"/>
<polygon points="789.5,921.14 777.5,941.93 801.5,941.93" fill="#000"/>
<polygon points="840.2,918.44 828.2,939.23 852.2,939.23" fill="#000"/>
<polygon points="991.8,915.14 979.8,935.93 1003.8,935.93" fill="#000"/>
<polygon points="1193.6,913.14 1181.6,933.93 1205.6,933.93" fill="#000"/>
<circle cx="789.5" cy="970.8" r="10.2" fill="#000"/>
<circle cx="840.2" cy="966.3" r="10.2" fill="#000"/>
<circle cx="991.8" cy="959.8" r="10.2" fill="#000"/>
<circle cx="1193.6" cy="955" r="10.2" fill="#000"/>
</svg></body></html>
